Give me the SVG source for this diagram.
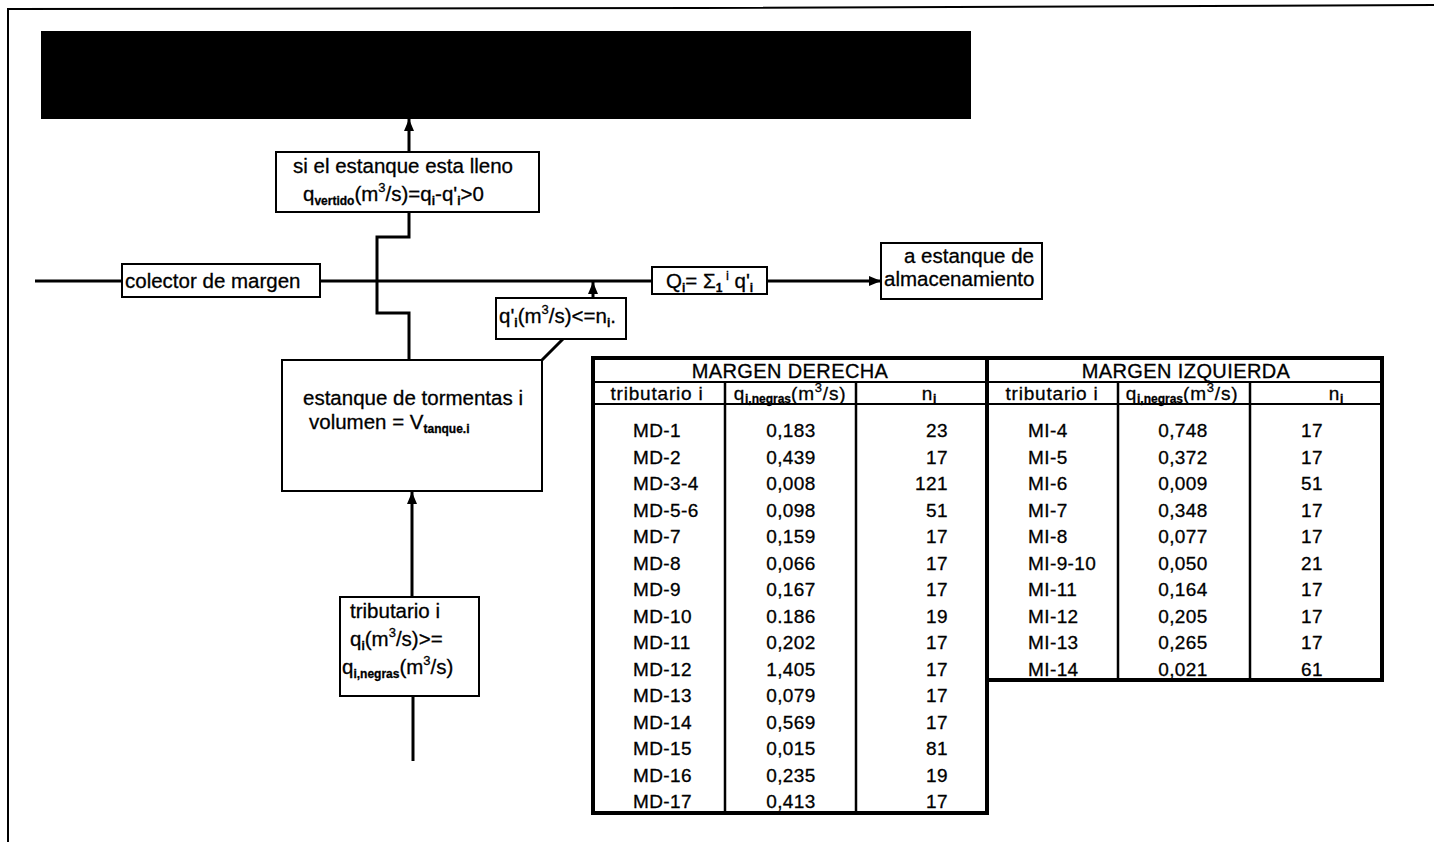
<svg xmlns="http://www.w3.org/2000/svg" width="1434" height="842" viewBox="0 0 1434 842">
<style>
text { font-family: "Liberation Sans", Arial, sans-serif; fill: #000; stroke: #000; stroke-width: 0.3px; }
.t20 { font-size: 20.5px; }
.t19 { font-size: 19px; letter-spacing: 0.4px; }
.tH { font-size: 20px; letter-spacing: 0.4px; }
.th { font-size: 19px; letter-spacing: 0.8px; }
.box { fill: #fff; stroke: #000; stroke-width: 2; }
.wire { fill: none; stroke: #000; stroke-width: 3; }
.tbl { fill: none; stroke: #000; stroke-width: 4; }
.grid { fill: none; stroke: #000; stroke-width: 2; }
.col { fill: none; stroke: #000; stroke-width: 2.5; }
.sub { font-size: 12px; font-weight: bold; letter-spacing: 0; }
.sup { font-size: 13px; }
.mid { text-anchor: middle; }
.end { text-anchor: end; }
</style>
<defs>
<marker id="arr" markerUnits="userSpaceOnUse" markerWidth="12" markerHeight="10" viewBox="0 0 12 10" refX="12" refY="5" orient="auto">
<path d="M0,0 L12,5 L0,10 z" fill="#000"/>
</marker>
</defs>
<rect x="0" y="0" width="1434" height="842" fill="#fff"/>
<polyline points="8,842 8,9 700,8 1434,5" fill="none" stroke="#000" stroke-width="2"/>

<g id="node-titulo">
<rect x="41" y="31" width="930" height="88" fill="#000"/>
</g>

<g id="connectors">
<path class="wire" d="M409,152 V119" marker-end="url(#arr)"/>
<path class="wire" d="M409,212 V237 H377 V313 H409 V360"/>
<path class="wire" d="M35,281 H122" stroke-width="4"/>
<path class="wire" d="M320,281 H652"/>
<path class="wire" d="M767,281 H881" marker-end="url(#arr)"/>
<path class="wire" d="M593,298 V282" marker-end="url(#arr)"/>
<path class="wire" d="M412,597 V492" marker-end="url(#arr)"/>
<path class="wire" d="M413,696 V761"/>
<path class="wire" d="M542,360 L563,339" stroke-width="2.5"/>
</g>

<g id="node-vertido">
<rect class="box" x="276" y="152" width="263" height="60"/>
<text class="t20" x="293" y="173">si el estanque esta lleno</text>
<text class="t20" x="303" y="201">q<tspan class="sub" dy="4">vertido</tspan><tspan dy="-4">(m</tspan><tspan class="sup" dy="-9">3</tspan><tspan dy="9">/s)=q</tspan><tspan class="sub" dy="4">i</tspan><tspan dy="-4">-q'</tspan><tspan class="sub" dy="4">i</tspan><tspan dy="-4">&gt;0</tspan></text>
</g>

<g id="node-colector">
<rect class="box" x="122" y="264" width="198" height="33"/>
<text class="t20" x="125" y="288">colector de margen</text>
</g>

<g id="node-Q">
<rect class="box" x="652" y="267" width="115" height="27"/>
<text class="t20" x="666" y="288">Q<tspan class="sub" dy="4">i</tspan><tspan dy="-4">= Σ</tspan><tspan class="sub" dy="4">1</tspan><tspan class="sup" dy="-12"> i</tspan><tspan dy="8"> q'</tspan><tspan class="sub" dy="4">i</tspan></text>
</g>

<g id="node-almacenamiento">
<rect class="box" x="881" y="243" width="161" height="56"/>
<text class="t20" x="904" y="263">a estanque de</text>
<text class="t20" x="884" y="286">almacenamiento</text>
</g>

<g id="node-qprima">
<rect class="box" x="496" y="298" width="130" height="41"/>
<text class="t20" x="499" y="323">q'<tspan class="sub" dy="4">i</tspan><tspan dy="-4">(m</tspan><tspan class="sup" dy="-9">3</tspan><tspan dy="9">/s)&lt;=n</tspan><tspan class="sub" dy="4">i</tspan><tspan dy="-4">.</tspan></text>
</g>

<g id="node-estanque">
<rect class="box" x="282" y="360" width="260" height="131"/>
<text class="t20" x="303" y="405">estanque de tormentas i</text>
<text class="t20" x="309" y="429">volumen = V<tspan class="sub" dy="4">tanque.i</tspan></text>
</g>

<g id="node-tributario">
<rect class="box" x="340" y="597" width="139" height="99"/>
<text class="t20" x="350" y="618">tributario i</text>
<text class="t20" x="350" y="646">q<tspan class="sub" dy="4">i</tspan><tspan dy="-4">(m</tspan><tspan class="sup" dy="-9">3</tspan><tspan dy="9">/s)&gt;=</tspan></text>
<text class="t20" x="342" y="674">q<tspan class="sub" dy="4">i,negras</tspan><tspan dy="-4">(m</tspan><tspan class="sup" dy="-9">3</tspan><tspan dy="9">/s)</tspan></text>
</g>

<g id="tabla-margen-derecha">
<rect class="tbl" x="593" y="358" width="394" height="455"/>
<line class="grid" x1="593" y1="382" x2="987" y2="382"/>
<line class="grid" x1="593" y1="404" x2="987" y2="404"/>
<line class="col" x1="725" y1="382" x2="725" y2="813"/>
<line class="col" x1="856" y1="382" x2="856" y2="813"/>
<text class="tH mid" x="790" y="378">MARGEN DERECHA</text>
<text class="th mid" x="657" y="400">tributario i</text>
<text class="th mid" x="790" y="400">q<tspan class="sub" dy="3">i,negras</tspan><tspan dy="-3">(m</tspan><tspan class="sup" dy="-8">3</tspan><tspan dy="8">/s)</tspan></text>
<text class="th mid" x="929" y="400">n<tspan class="sub" dy="3">i</tspan></text>
<g class="t19">
<text x="633" y="437">MD-1</text><text class="mid" x="791" y="437">0,183</text><text class="end" x="948" y="437">23</text>
<text x="633" y="463.5">MD-2</text><text class="mid" x="791" y="463.5">0,439</text><text class="end" x="948" y="463.5">17</text>
<text x="633" y="490">MD-3-4</text><text class="mid" x="791" y="490">0,008</text><text class="end" x="948" y="490">121</text>
<text x="633" y="516.5">MD-5-6</text><text class="mid" x="791" y="516.5">0,098</text><text class="end" x="948" y="516.5">51</text>
<text x="633" y="543">MD-7</text><text class="mid" x="791" y="543">0,159</text><text class="end" x="948" y="543">17</text>
<text x="633" y="569.5">MD-8</text><text class="mid" x="791" y="569.5">0,066</text><text class="end" x="948" y="569.5">17</text>
<text x="633" y="596">MD-9</text><text class="mid" x="791" y="596">0,167</text><text class="end" x="948" y="596">17</text>
<text x="633" y="622.5">MD-10</text><text class="mid" x="791" y="622.5">0.186</text><text class="end" x="948" y="622.5">19</text>
<text x="633" y="649">MD-11</text><text class="mid" x="791" y="649">0,202</text><text class="end" x="948" y="649">17</text>
<text x="633" y="675.5">MD-12</text><text class="mid" x="791" y="675.5">1,405</text><text class="end" x="948" y="675.5">17</text>
<text x="633" y="702">MD-13</text><text class="mid" x="791" y="702">0,079</text><text class="end" x="948" y="702">17</text>
<text x="633" y="728.5">MD-14</text><text class="mid" x="791" y="728.5">0,569</text><text class="end" x="948" y="728.5">17</text>
<text x="633" y="755">MD-15</text><text class="mid" x="791" y="755">0,015</text><text class="end" x="948" y="755">81</text>
<text x="633" y="781.5">MD-16</text><text class="mid" x="791" y="781.5">0,235</text><text class="end" x="948" y="781.5">19</text>
<text x="633" y="808">MD-17</text><text class="mid" x="791" y="808">0,413</text><text class="end" x="948" y="808">17</text>
</g>
</g>

<g id="tabla-margen-izquierda">
<rect class="tbl" x="987" y="358" width="395" height="322"/>
<line class="grid" x1="987" y1="382" x2="1382" y2="382"/>
<line class="grid" x1="987" y1="404" x2="1382" y2="404"/>
<line class="col" x1="1118" y1="382" x2="1118" y2="680"/>
<line class="col" x1="1250" y1="382" x2="1250" y2="680"/>
<text class="tH mid" x="1186" y="378">MARGEN IZQUIERDA</text>
<text class="th mid" x="1052" y="400">tributario i</text>
<text class="th mid" x="1182" y="400">q<tspan class="sub" dy="3">i,negras</tspan><tspan dy="-3">(m</tspan><tspan class="sup" dy="-8">3</tspan><tspan dy="8">/s)</tspan></text>
<text class="th mid" x="1336" y="400">n<tspan class="sub" dy="3">i</tspan></text>
<g class="t19">
<text x="1028" y="437">MI-4</text><text class="mid" x="1183" y="437">0,748</text><text class="mid" x="1312" y="437">17</text>
<text x="1028" y="463.5">MI-5</text><text class="mid" x="1183" y="463.5">0,372</text><text class="mid" x="1312" y="463.5">17</text>
<text x="1028" y="490">MI-6</text><text class="mid" x="1183" y="490">0,009</text><text class="mid" x="1312" y="490">51</text>
<text x="1028" y="516.5">MI-7</text><text class="mid" x="1183" y="516.5">0,348</text><text class="mid" x="1312" y="516.5">17</text>
<text x="1028" y="543">MI-8</text><text class="mid" x="1183" y="543">0,077</text><text class="mid" x="1312" y="543">17</text>
<text x="1028" y="569.5">MI-9-10</text><text class="mid" x="1183" y="569.5">0,050</text><text class="mid" x="1312" y="569.5">21</text>
<text x="1028" y="596">MI-11</text><text class="mid" x="1183" y="596">0,164</text><text class="mid" x="1312" y="596">17</text>
<text x="1028" y="622.5">MI-12</text><text class="mid" x="1183" y="622.5">0,205</text><text class="mid" x="1312" y="622.5">17</text>
<text x="1028" y="649">MI-13</text><text class="mid" x="1183" y="649">0,265</text><text class="mid" x="1312" y="649">17</text>
<text x="1028" y="675.5">MI-14</text><text class="mid" x="1183" y="675.5">0,021</text><text class="mid" x="1312" y="675.5">61</text>
</g>
</g>
</svg>
